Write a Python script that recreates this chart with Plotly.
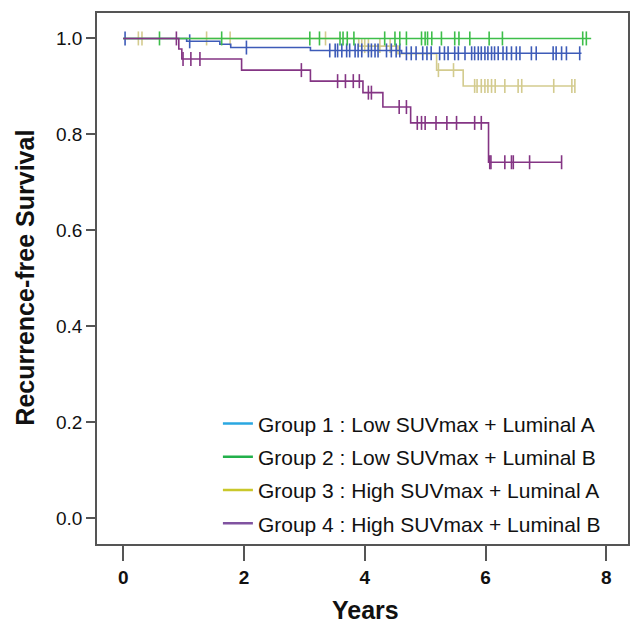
import plotly.graph_objects as go
import bisect

# ---- data ----
g1_times = [0, 1.05, 1.60, 1.78, 3.10, 4.61, 7.59]
g1_surv = [1.0, 0.994, 0.988, 0.981, 0.975, 0.969, 0.969]
g1_cens = [0.03, 1.10, 2.04, 3.42, 3.51, 3.55, 3.62, 3.70, 3.75, 3.84, 3.89, 3.95, 4.06, 4.11,
           4.17, 4.22, 4.36, 4.44, 4.52, 4.58, 4.69, 4.77, 4.85, 4.96, 5.03, 5.10, 5.24, 5.32,
           5.38, 5.49, 5.55, 5.66, 5.77, 5.82, 5.88, 5.93, 5.99, 6.04, 6.10, 6.15, 6.21, 6.29,
           6.35, 6.43, 6.51, 6.57, 6.76, 6.84, 7.12, 7.17, 7.26, 7.34, 7.56]

g2_times = [0, 7.75]
g2_surv = [1.0, 1.0]
g2_cens = [0.60, 1.63, 3.09, 3.25, 3.59, 3.64, 3.71, 3.82, 4.33, 4.50, 4.58, 4.69, 4.94, 5.00,
           5.04, 5.11, 5.27, 5.49, 5.56, 5.74, 6.06, 6.28, 7.61, 7.67]

g3_times = [0, 3.90, 4.55, 5.19, 5.63, 7.48]
g3_surv = [1.0, 0.984, 0.968, 0.934, 0.901, 0.901]
g3_cens = [0.25, 0.31, 1.38, 1.77, 3.35, 3.95, 4.00, 4.06, 4.25, 4.42, 5.22, 5.47, 5.82, 5.86,
           5.93, 5.99, 6.04, 6.10, 6.16, 6.32, 6.54, 6.60, 7.13, 7.43, 7.48]

g4_times = [0, 0.92, 0.97, 1.96, 3.10, 3.97, 4.30, 4.76, 6.05, 7.26]
g4_surv = [1.0, 0.978, 0.957, 0.934, 0.911, 0.887, 0.857, 0.824, 0.742, 0.742]
g4_cens = [0.88, 0.99, 1.12, 1.27, 2.95, 3.55, 3.68, 3.81, 3.91, 4.06, 4.11, 4.57, 4.69, 4.87,
           4.94, 5.00, 5.18, 5.36, 5.52, 5.82, 5.93, 6.07, 6.09, 6.32, 6.43, 6.46, 6.73, 7.26]

legend_names = ["Group 1 : Low SUVmax + Luminal A", "Group 2 : Low SUVmax + Luminal B",
                "Group 3 : High SUVmax + Luminal A", "Group 4 : High SUVmax + Luminal B"]
x_ticks = [0, 2, 4, 6, 8]
y_ticks = [0.0, 0.2, 0.4, 0.6, 0.8, 1.0]
x_title = "Years"
y_title = "Recurrence-free Survival"

line_colors = ["#3D5BB8", "#3DBE4A", "#D3CB8E", "#843584"]
legend_colors = ["#2AA7E1", "#22B04B", "#C9C82B", "#8053A0"]

FONT = "Liberation Sans, Arial, sans-serif"


def surv_at(times, surv, t):
    i = bisect.bisect_right(times, t) - 1
    return surv[max(i, 0)]


fig = go.Figure()
groups = [(g1_times, g1_surv, g1_cens), (g2_times, g2_surv, g2_cens),
          (g3_times, g3_surv, g3_cens), (g4_times, g4_surv, g4_cens)]
# draw order: yellow, blue, green, purple
for idx in [2, 0, 1, 3]:
    times, surv, cens = groups[idx]
    col = line_colors[idx]
    fig.add_trace(go.Scatter(x=times, y=surv, mode="lines", line=dict(color=col, width=1.6, shape="hv"),
                             showlegend=False, hoverinfo="skip"))
    fig.add_trace(go.Scatter(x=cens, y=[surv_at(times, surv, t) for t in cens], mode="markers",
                             marker=dict(symbol="line-ns-open", size=10, color=col,
                                         line=dict(color=col, width=1.6)),
                             showlegend=False, hoverinfo="skip"))

for k, (name, col) in enumerate(zip(legend_names, legend_colors)):
    fig.add_trace(go.Scatter(x=[None], y=[None], mode="lines", name=name, legendgroup="g%d" % k,
                             line=dict(color=col, width=2.5)))

fig.update_layout(
    width=630, height=628,
    margin=dict(l=97, r=2, t=13, b=84, autoexpand=False),
    paper_bgcolor="white", plot_bgcolor="white",
    font=dict(family=FONT, color="#111111"),
    showlegend=True,
    legend=dict(x=0.2277, y=0.265, xanchor="left", yanchor="top", bgcolor="rgba(0,0,0,0)",
                font=dict(size=21, color="#111111"), tracegroupgap=3, itemwidth=30),
    xaxis=dict(range=[-0.435, 8.36], tickvals=x_ticks, ticktext=["<b>%d</b>" % v for v in x_ticks],
               automargin=False,
               showgrid=False, zeroline=False, showline=True, linecolor="#555555", linewidth=1.5,
               mirror=True, ticks="outside", ticklen=15, tickwidth=1.5, tickcolor="#555555",
               tickfont=dict(size=19, family=FONT, color="#111111")),
    yaxis=dict(range=[-0.0535, 1.053], tickvals=y_ticks, ticktext=["%.1f" % v for v in y_ticks],
               automargin=False,
               showgrid=False, zeroline=False, showline=True, linecolor="#555555", linewidth=1.5,
               mirror=True, ticks="outside", ticklen=9, tickwidth=1.5, tickcolor="#555555",
               tickfont=dict(size=19, family=FONT, color="#111111")),
    annotations=[
        dict(text="<b>%s</b>" % x_title, xref="paper", yref="paper", x=0.506, y=-0.124,
             xanchor="center", yanchor="middle", showarrow=False, font=dict(size=25, family=FONT)),
        dict(text="<b>%s</b>" % y_title, xref="paper", yref="paper", x=-0.1347, y=0.5025,
             xanchor="center", yanchor="middle", textangle=-90, showarrow=False,
             font=dict(size=25, family=FONT)),
    ],
)

fig.write_html("out.html", config={"displayModeBar": False},
               post_script="document.body.style.margin='0';document.body.style.padding='0';")
